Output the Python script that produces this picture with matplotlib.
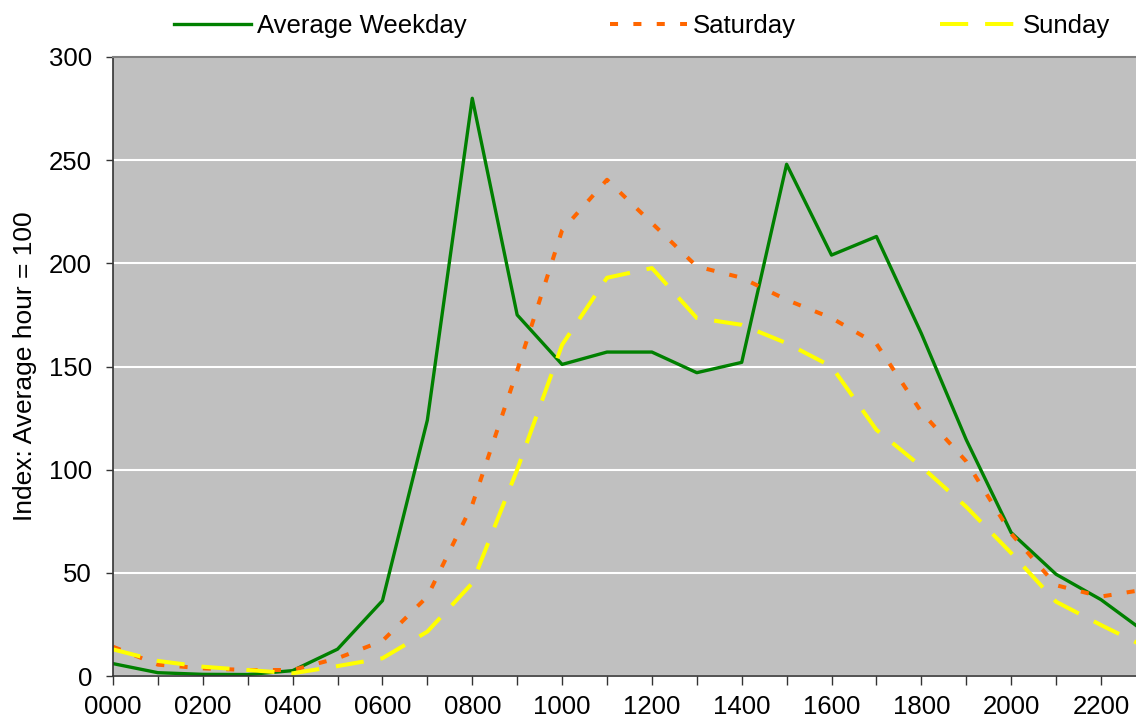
import matplotlib.pyplot as plt
import numpy as np

plt.rcParams["font.family"] = ["Liberation Sans", "DejaVu Sans"]

hours = list(range(24))
hour_labels = [f"{h:02d}00" for h in hours]

weekday = [6, 1.6, 0.8, 0.7, 2.6, 13, 36.5, 124, 280, 175, 151, 157,
           157, 147, 152, 248, 204, 213, 166, 114.5, 69.5, 49.3, 37, 21]
saturday = [14.2, 5.5, 3.7, 2.9, 2.9, 8.6, 17, 38.5, 83, 148, 216, 240.5,
            219.5, 198.5, 193, 182.3, 173.5, 161, 128, 104, 69, 44, 38.5, 42]
sunday = [12.9, 7.3, 4.5, 2.9, 1.3, 4.8, 8.6, 21.5, 45, 100, 160.5, 193,
          197.7, 173.5, 170.2, 161.3, 150, 119.3, 101.5, 82, 59.6, 36, 24.7, 14]

fig = plt.figure(figsize=(11.36, 7.25), dpi=100)
ax = fig.add_axes([113 / 1136, 1 - 676 / 725, 1023 / 1136, 619 / 725])
ax.set_facecolor("#C0C0C0")

x = np.arange(len(hours))
ax.plot(x, weekday, color="#008000", lw=2.4, label="Average Weekday")
ax.plot(x, saturday, color="#FF6600", lw=2.9, linestyle=(0, (2.0, 3.8)),
        label="Saturday")
ax.plot(x, sunday, color="#FFFF00", lw=2.9, linestyle=(0, (7.0, 4.2)),
        label="Sunday")

ax.set_yticks(np.arange(0, 301, 50))
ax.set_xticks(x)
ax.set_xticklabels([lab if i % 2 == 0 else "" for i, lab in enumerate(hour_labels)])
ax.set_xlim(0, 22.78)
ax.set_ylim(0, 300)
ax.grid(axis="y", color="white", lw=1.5)
ax.set_axisbelow(True)

ax.tick_params(axis="both", labelsize=18.5, direction="out",
               color="#333333", width=1)
ax.tick_params(axis="x", pad=7, length=6.5)
ax.tick_params(axis="y", pad=10, length=5)
for side in ["left", "bottom"]:
    ax.spines[side].set_color("#333333")
    ax.spines[side].set_linewidth(1.2)
ax.spines["top"].set_color("#808080")
ax.spines["top"].set_linewidth(1.5)
ax.spines["right"].set_visible(False)

ax.set_ylabel("Index: Average hour = 100", fontsize=19, labelpad=9)

fig.legend(loc="center", bbox_to_anchor=(0.565, 1 - 26 / 725), ncol=3,
           frameon=False, fontsize=18.5, handlelength=3.0, handletextpad=0.23,
           columnspacing=5.6)

fig.savefig("out.png", dpi=100)
